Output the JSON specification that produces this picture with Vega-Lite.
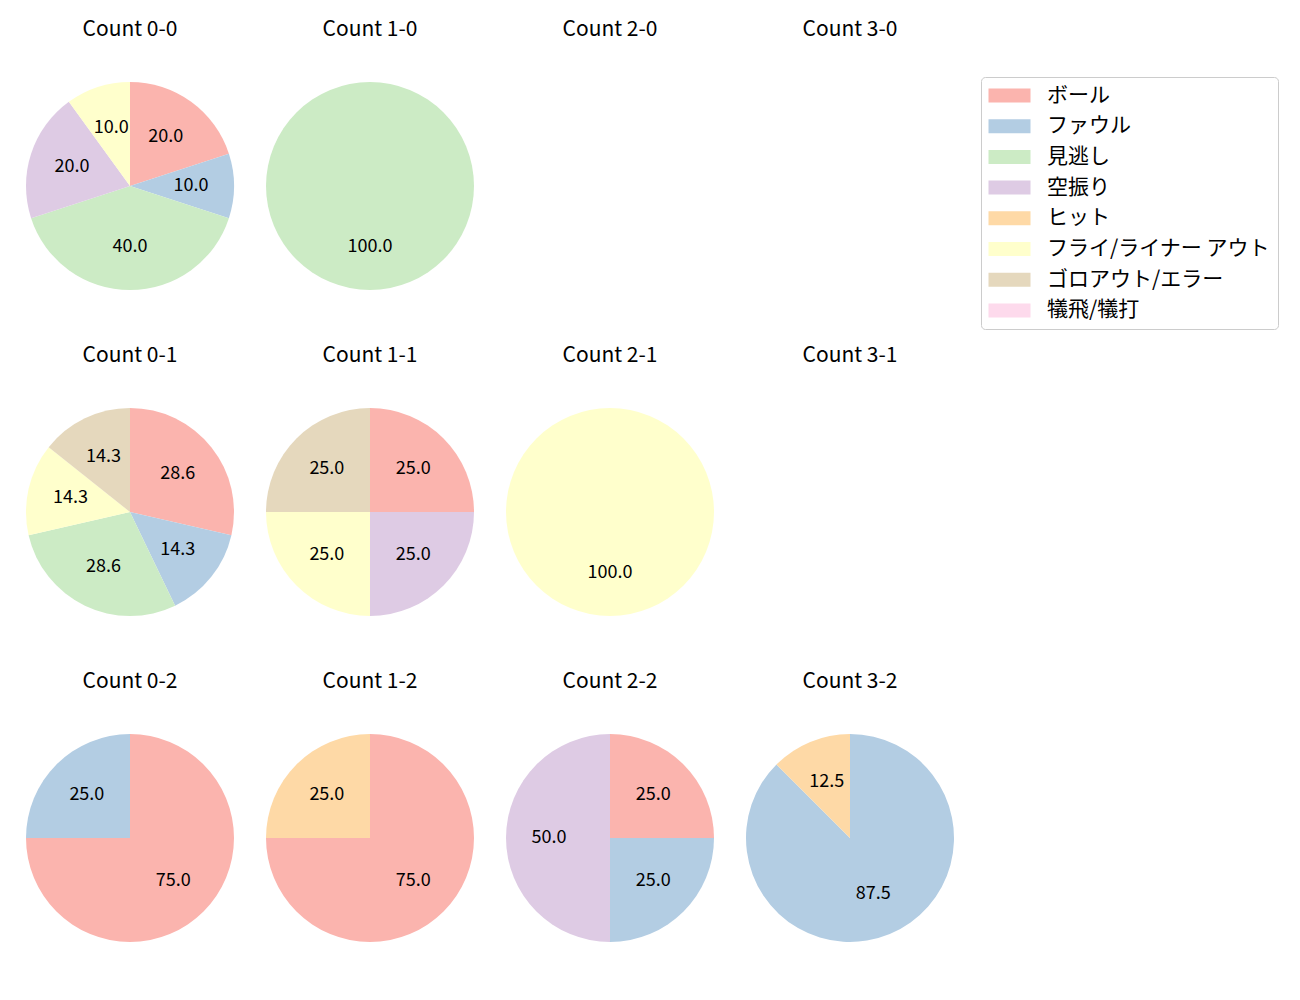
{
  "$schema": "https://vega.github.io/schema/vega-lite/v6.json",
  "padding": {"left": 26, "top": 19, "right": 5, "bottom": 5},
  "background": "white",
  "config": {"view": {"stroke": null}, "font": "Noto Sans CJK JP"},
  "data": {"values": [
    {"count": "Count 0-0", "cat": "ボール", "pct": 20},
    {"count": "Count 0-0", "cat": "ファウル", "pct": 10},
    {"count": "Count 0-0", "cat": "見逃し", "pct": 40},
    {"count": "Count 0-0", "cat": "空振り", "pct": 20},
    {"count": "Count 0-0", "cat": "フライ/ライナー アウト", "pct": 10},
    {"count": "Count 1-0", "cat": "見逃し", "pct": 100},
    {"count": "Count 2-0", "cat": "ボール", "pct": 0},
    {"count": "Count 3-0", "cat": "ボール", "pct": 0},
    {"count": "Count 0-1", "cat": "ボール", "pct": 28.571},
    {"count": "Count 0-1", "cat": "ファウル", "pct": 14.286},
    {"count": "Count 0-1", "cat": "見逃し", "pct": 28.571},
    {"count": "Count 0-1", "cat": "フライ/ライナー アウト", "pct": 14.286},
    {"count": "Count 0-1", "cat": "ゴロアウト/エラー", "pct": 14.286},
    {"count": "Count 1-1", "cat": "ボール", "pct": 25},
    {"count": "Count 1-1", "cat": "空振り", "pct": 25},
    {"count": "Count 1-1", "cat": "フライ/ライナー アウト", "pct": 25},
    {"count": "Count 1-1", "cat": "ゴロアウト/エラー", "pct": 25},
    {"count": "Count 2-1", "cat": "フライ/ライナー アウト", "pct": 100},
    {"count": "Count 3-1", "cat": "ボール", "pct": 0},
    {"count": "Count 0-2", "cat": "ボール", "pct": 75},
    {"count": "Count 0-2", "cat": "ファウル", "pct": 25},
    {"count": "Count 1-2", "cat": "ボール", "pct": 75},
    {"count": "Count 1-2", "cat": "ヒット", "pct": 25},
    {"count": "Count 2-2", "cat": "ボール", "pct": 25},
    {"count": "Count 2-2", "cat": "ファウル", "pct": 25},
    {"count": "Count 2-2", "cat": "空振り", "pct": 50},
    {"count": "Count 3-2", "cat": "ファウル", "pct": 87.5},
    {"count": "Count 3-2", "cat": "ヒット", "pct": 12.5}
  ]},
  "facet": {
    "field": "count",
    "type": "nominal",
    "sort": ["Count 0-0", "Count 1-0", "Count 2-0", "Count 3-0", "Count 0-1", "Count 1-1", "Count 2-1", "Count 3-1", "Count 0-2", "Count 1-2", "Count 2-2", "Count 3-2"],
    "header": {"title": null, "labelFontSize": 21, "labelFont": "Noto Sans CJK JP", "labelColor": "#000000", "labelPadding": 42}
  },
  "columns": 4,
  "spacing": {"column": 32, "row": 55},
  "spec": {
    "width": 208,
    "height": 208,
    "layer": [
      {
        "mark": {"type": "arc"},
        "encoding": {
          "theta": {"field": "pct", "type": "quantitative", "stack": true, "scale": {"domain": [0, 100]}},
          "color": {
            "field": "cat",
            "type": "nominal",
            "sort": null,
            "scale": {
              "domain": ["ボール", "ファウル", "見逃し", "空振り", "ヒット", "フライ/ライナー アウト", "ゴロアウト/エラー", "犠飛/犠打"],
              "range": ["#fbb4ae", "#b3cde3", "#ccebc5", "#decbe4", "#fed9a6", "#ffffcc", "#e5d8bd", "#fddaec"]
            },
            "legend": {
              "title": null,
              "orient": "none",
              "legendX": 955,
              "legendY": -5,
              "padding": 8,
              "strokeColor": "#cccccc",
              "fillColor": "white",
              "cornerRadius": 4,
              "labelFontSize": 21,
              "labelFont": "Noto Sans CJK JP",
              "labelColor": "#000000",
              "labelOffset": 27,
              "labelLimit": 400,
              "rowPadding": 8.7,
              "symbolType": "M-3,-1H3V1H-3Z",
              "symbolSize": 196,
              "symbolOffset": 10,
              "symbolStrokeWidth": 0,
              "symbolOpacity": 1
            }
          },
          "order": {"field": "count"}
        }
      },
      {
        "transform": [{"filter": "datum.pct > 0"}],
        "mark": {"type": "text", "radius": 61, "fontSize": 18, "font": "Noto Sans CJK JP", "color": "#000000"},
        "encoding": {
          "theta": {"field": "pct", "type": "quantitative", "stack": true, "scale": {"domain": [0, 100]}},
          "text": {"field": "pct", "type": "quantitative", "format": ".1f"},
          "order": {"field": "count"}
        }
      }
    ]
  }
}
